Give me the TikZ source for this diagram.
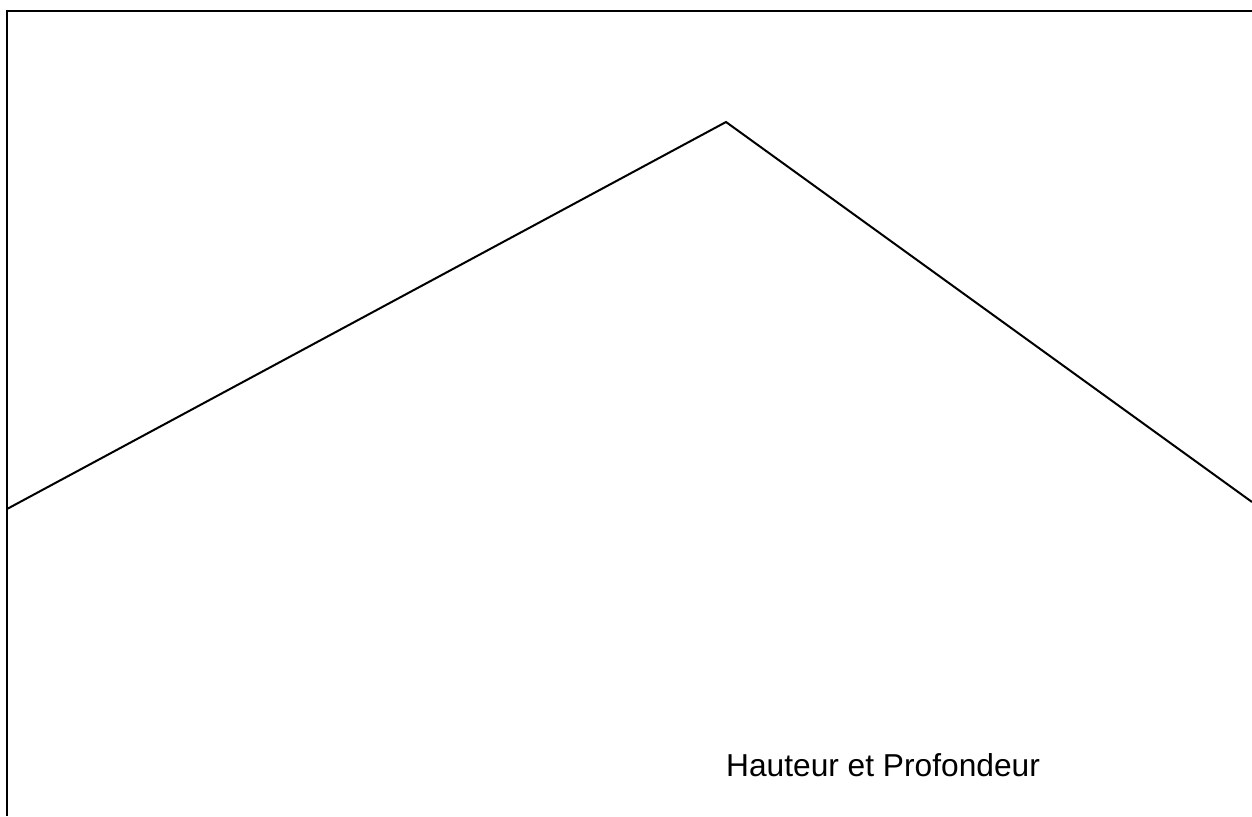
\documentclass[tikz,border=0pt]{standalone}
\usepackage{fontspec}
\setmainfont{Liberation Sans}
\begin{document}
\begin{tikzpicture}[x=1pt,y=-1pt,
  frame/.style={line width=2pt,black},
  ridge/.style={line width=2pt,black,line join=miter},
  lbl/.style={inner sep=0pt,anchor=base west,font=\fontsize{31.7}{38}\selectfont}]
\useasboundingbox (0,0) rectangle (1252,816);
\coordinate (tl) at (7,11);
\coordinate (tr) at (1252,11);
\coordinate (bl) at (7,816);
\coordinate (l) at (7,509);
\coordinate (p) at (726,122);
\coordinate (r) at (1252,502);
\draw[frame] (tr) -- (tl) -- (bl);
\draw[ridge] (l) -- (p) -- (r);
\node[lbl] (t) at (726,776) {Hauteur et Profondeur};
\end{tikzpicture}
\end{document}
